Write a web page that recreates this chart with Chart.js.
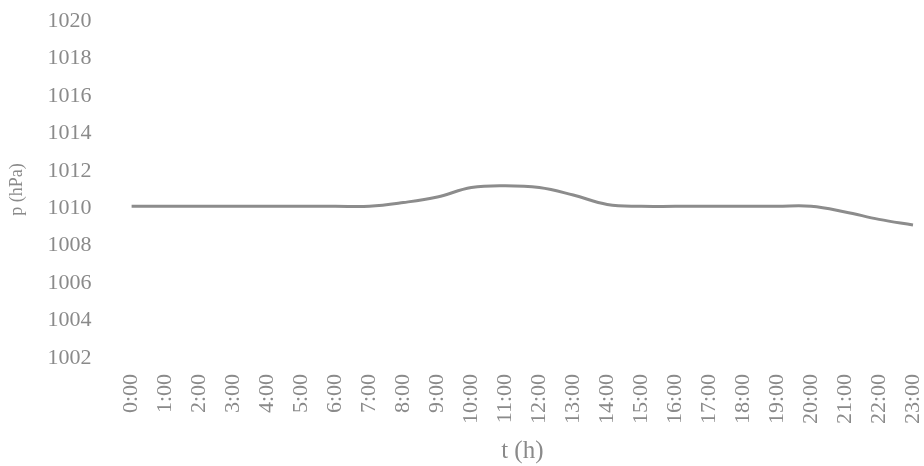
<!DOCTYPE html>
<html>
<head>
<meta charset="utf-8">
<script src="https://cdn.jsdelivr.net/npm/chart.js@4"></script>
<style>
  html, body { margin: 0; padding: 0; background: #ffffff; }
  #wrap { width: 924px; height: 466px; }
</style>
</head>
<body>
<div id="wrap"><canvas id="pressureChart" width="924" height="466"></canvas></div>
<script>
/* data */
const hours = [
  "0:00", "1:00", "2:00", "3:00", "4:00", "5:00",
  "6:00", "7:00", "8:00", "9:00", "10:00", "11:00",
  "12:00", "13:00", "14:00", "15:00", "16:00", "17:00",
  "18:00", "19:00", "20:00", "21:00", "22:00", "23:00"
];

const pressure = [
  1010.1, 1010.1, 1010.1, 1010.1, 1010.1, 1010.1,
  1010.1, 1010.1, 1010.3, 1010.6, 1011.1, 1011.2,
  1011.1, 1010.7, 1010.2, 1010.1, 1010.1, 1010.1,
  1010.1, 1010.1, 1010.1, 1009.8, 1009.4, 1009.1
];

const yMin = 1002;
const yMax = 1020;
const yStep = 2;

const textGrey = "#8a8a8a";
const fontFace = "'Liberation Serif', serif";

/* chart */
new Chart(document.getElementById("pressureChart"), {

  type: "line",

  data: {
    labels: hours,
    datasets: [
      {
        label: "p",
        data: pressure,
        borderColor: "#8c8c8c",
        borderWidth: 3,
        pointRadius: 0,
        tension: 0.4,
        fill: false
      }
    ]
  },

  options: {
    responsive: false,
    animation: false,
    layout: {
      padding: { top: 0, right: 0, bottom: 0, left: 6 }
    },
    plugins: {
      legend: { display: false },
      tooltip: { enabled: false }
    },
    scales: {
      x: {
        grid: { display: false },
        border: { display: false },
        ticks: {
          color: textGrey,
          font: { family: fontFace, size: 22 },
          minRotation: 90,
          maxRotation: 90,
          padding: 8,
          autoSkip: false
        },
        title: {
          display: true,
          text: "t (h)",
          color: textGrey,
          font: { family: fontFace, size: 25 },
          padding: { top: 4, bottom: 0 }
        },
        // keep the plot running almost to the right edge
        afterFit: (scale) => {
          scale.paddingLeft = 0;
          scale.paddingRight = 11;
        }
      },
      y: {
        min: yMin,
        max: yMax,
        grid: { display: false },
        border: { display: false },
        ticks: {
          stepSize: yStep,
          color: textGrey,
          font: { family: fontFace, size: 22 },
          padding: 32,
          callback: (value) => String(value)
        },
        title: {
          display: true,
          text: "p (hPa)",
          color: textGrey,
          font: { family: fontFace, size: 18 },
          padding: { top: 0, bottom: -12 }
        },
        // tick padding would otherwise push the top down too
        afterFit: (scale) => {
          scale.paddingTop = 21;
          scale.paddingBottom = 12;
        }
      }
    }
  }
});
</script>
</body>
</html>
